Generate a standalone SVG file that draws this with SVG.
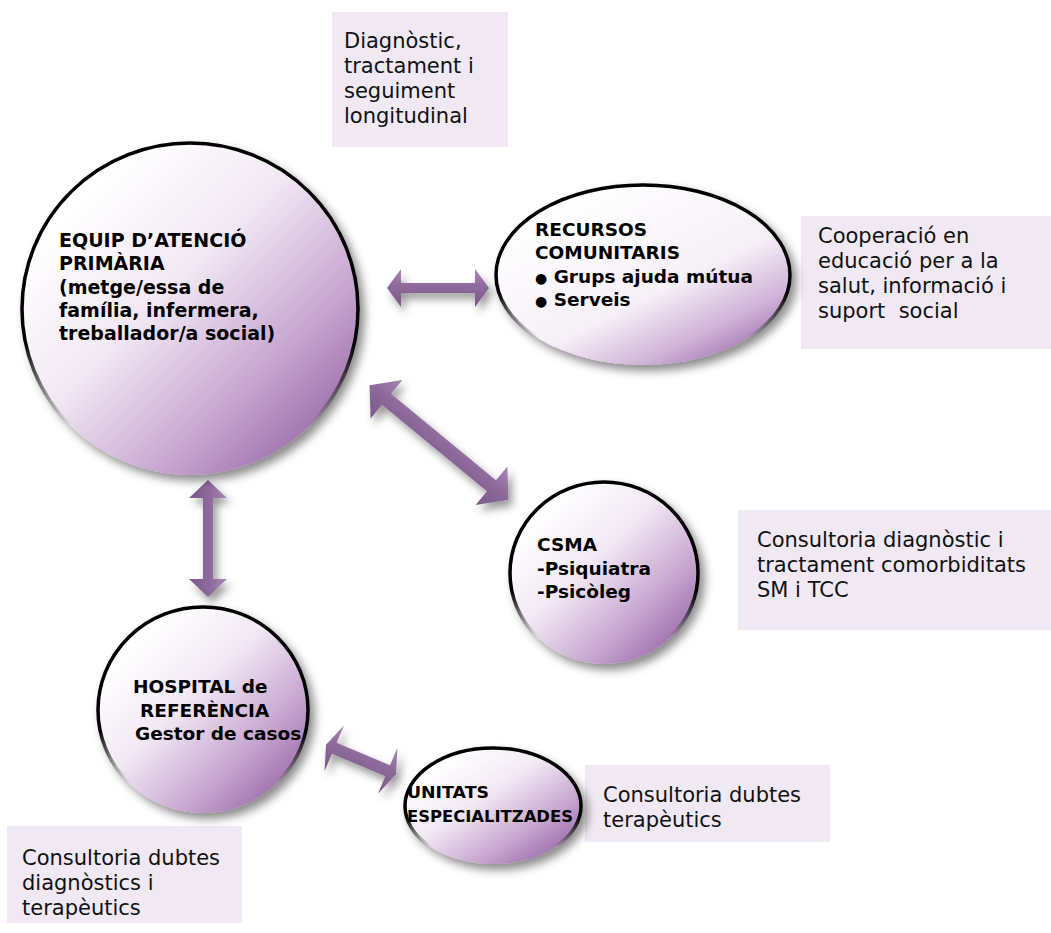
<svg xmlns="http://www.w3.org/2000/svg" width="1051" height="933" viewBox="0 0 1051 933">
<defs>
<style>
.box{fill:#f0e8f2}
.t{font-family:"DejaVu Sans",Verdana,sans-serif;font-size:21px;fill:#111}
.b{font-family:"DejaVu Sans",Verdana,sans-serif;font-size:18.5px;font-weight:bold;fill:#000}
.node{stroke:url(#strk);stroke-width:3.5}
.arr{fill:url(#ag)}
</style>
<linearGradient id="fillA" x1="0.2" y1="0.15" x2="0.95" y2="0.9">
<stop offset="0" stop-color="#ffffff"/>
<stop offset="0.35" stop-color="#f2e8f4"/>
<stop offset="0.7" stop-color="#c7a6d0"/>
<stop offset="1" stop-color="#9463a3"/>
</linearGradient>
<linearGradient id="fillB" x1="0.2" y1="0.1" x2="0.9" y2="0.95">
<stop offset="0" stop-color="#ffffff"/>
<stop offset="0.55" stop-color="#f6f0f7"/>
<stop offset="0.8" stop-color="#cfb2d7"/>
<stop offset="1" stop-color="#9a6aa8"/>
</linearGradient>
<linearGradient id="strk" x1="0" y1="0" x2="0" y2="1">
<stop offset="0" stop-color="#000"/>
<stop offset="0.6" stop-color="#000"/>
<stop offset="0.85" stop-color="#000" stop-opacity="0"/>
</linearGradient>
<linearGradient id="ag" x1="0" y1="0" x2="0" y2="1">
<stop offset="0" stop-color="#a887b4"/>
<stop offset="0.45" stop-color="#8d6a9b"/>
<stop offset="1" stop-color="#7a588a"/>
</linearGradient>
<filter id="sh" x="-20%" y="-20%" width="150%" height="150%">
<feDropShadow dx="5" dy="6" stdDeviation="5" flood-color="#000" flood-opacity="0.45"/>
</filter>
<filter id="ash" x="-30%" y="-30%" width="170%" height="170%">
<feDropShadow dx="4" dy="6" stdDeviation="4" flood-color="#000" flood-opacity="0.4"/>
</filter>
</defs>
<rect width="1051" height="933" fill="#ffffff"/>

<g id="box-diagnostic">
<rect class="box" x="332" y="12" width="176" height="135"/>
<text class="t"><tspan x="344" y="48">Diagnòstic,</tspan><tspan x="344" y="73">tractament i</tspan><tspan x="344" y="98">seguiment</tspan><tspan x="344" y="123">longitudinal</tspan></text>
</g>
<g id="box-cooperacio">
<rect class="box" x="801" y="216" width="250" height="133"/>
<text class="t" xml:space="preserve"><tspan x="818" y="243">Cooperació en</tspan><tspan x="818" y="268">educació per a la</tspan><tspan x="818" y="293">salut, informació i</tspan><tspan x="818" y="318">suport  social</tspan></text>
</g>
<g id="box-consultoria-csma">
<rect class="box" x="738" y="510" width="313" height="120"/>
<text class="t"><tspan x="757" y="547">Consultoria diagnòstic i</tspan><tspan x="757" y="572">tractament comorbiditats</tspan><tspan x="757" y="597">SM i TCC</tspan></text>
</g>
<g id="box-consultoria-unitats">
<rect class="box" x="585" y="765" width="245" height="77"/>
<text class="t"><tspan x="603" y="802">Consultoria dubtes</tspan><tspan x="603" y="827">terapèutics</tspan></text>
</g>
<g id="box-consultoria-hospital">
<rect class="box" x="7" y="826" width="235" height="97"/>
<text class="t"><tspan x="22" y="865">Consultoria dubtes</tspan><tspan x="22" y="890">diagnòstics i</tspan><tspan x="22" y="915">terapèutics</tspan></text>
</g>

<g id="connectors">
<g filter="url(#ash)"><polygon class="arr" points="387,288 401,269 401,283 475,283 475,269 489,288 475,307 475,293 401,293 401,307"/></g>
<g filter="url(#ash)"><polygon class="arr" transform="translate(439,442.5) rotate(39.5)" points="-90,0 -68,-25 -68,-7 68,-7 68,-25 90,0 68,25 68,7 -68,7 -68,25"/></g>
<g filter="url(#ash)"><polygon class="arr" transform="translate(208,538.5) rotate(90)" points="-58.5,0 -40.5,-19 -40.5,-5 40.5,-5 40.5,-19 58.5,0 40.5,19 40.5,5 -40.5,5 -40.5,19"/></g>
<g filter="url(#ash)"><polygon class="arr" transform="translate(361,759.5) rotate(23)" points="-38,0 -29,-25 -29,-6 29,-6 29,-25 38,0 29,25 29,6 -29,6 -29,25"/></g>
</g>

<g id="node-eap">
<ellipse class="node" cx="190" cy="309" rx="168" ry="166" fill="url(#fillA)" filter="url(#sh)"/>
<text class="b" style="font-size:19px"><tspan x="59" y="247">EQUIP D’ATENCIÓ</tspan><tspan x="59" y="270">PRIMÀRIA</tspan><tspan x="59" y="294">(metge/essa de</tspan><tspan x="59" y="317">família, infermera,</tspan><tspan x="59" y="340">treballador/a social)</tspan></text>
</g>
<g id="node-recursos">
<ellipse class="node" cx="643" cy="275" rx="147" ry="90" fill="url(#fillB)" filter="url(#sh)"/>
<text class="b"><tspan x="535" y="236">RECURSOS</tspan><tspan x="535" y="259">COMUNITARIS</tspan><tspan x="535" y="283"><tspan style="font-size:14px">●</tspan> Grups ajuda mútua</tspan><tspan x="535" y="306"><tspan style="font-size:14px">●</tspan> Serveis</tspan></text>
</g>
<g id="node-csma">
<ellipse class="node" cx="604" cy="573" rx="94" ry="91" fill="url(#fillA)" filter="url(#sh)"/>
<text class="b"><tspan x="537" y="551">CSMA</tspan><tspan x="537" y="575">-Psiquiatra</tspan><tspan x="537" y="598">-Psicòleg</tspan></text>
</g>
<g id="node-hospital">
<ellipse class="node" cx="203" cy="710" rx="105" ry="103" fill="url(#fillA)" filter="url(#sh)"/>
<text class="b"><tspan x="133" y="693">HOSPITAL de</tspan><tspan x="140" y="717">REFERÈNCIA</tspan><tspan x="135" y="740">Gestor de casos</tspan></text>
</g>
<g id="node-unitats">
<ellipse class="node" cx="493" cy="806" rx="88" ry="58" fill="url(#fillA)" filter="url(#sh)"/>
<text class="b" style="font-size:15px"><tspan x="407" y="798" textLength="82" lengthAdjust="spacingAndGlyphs">UNITATS</tspan><tspan x="407" y="822" textLength="166" lengthAdjust="spacingAndGlyphs">ESPECIALITZADES</tspan></text>
</g>
</svg>
